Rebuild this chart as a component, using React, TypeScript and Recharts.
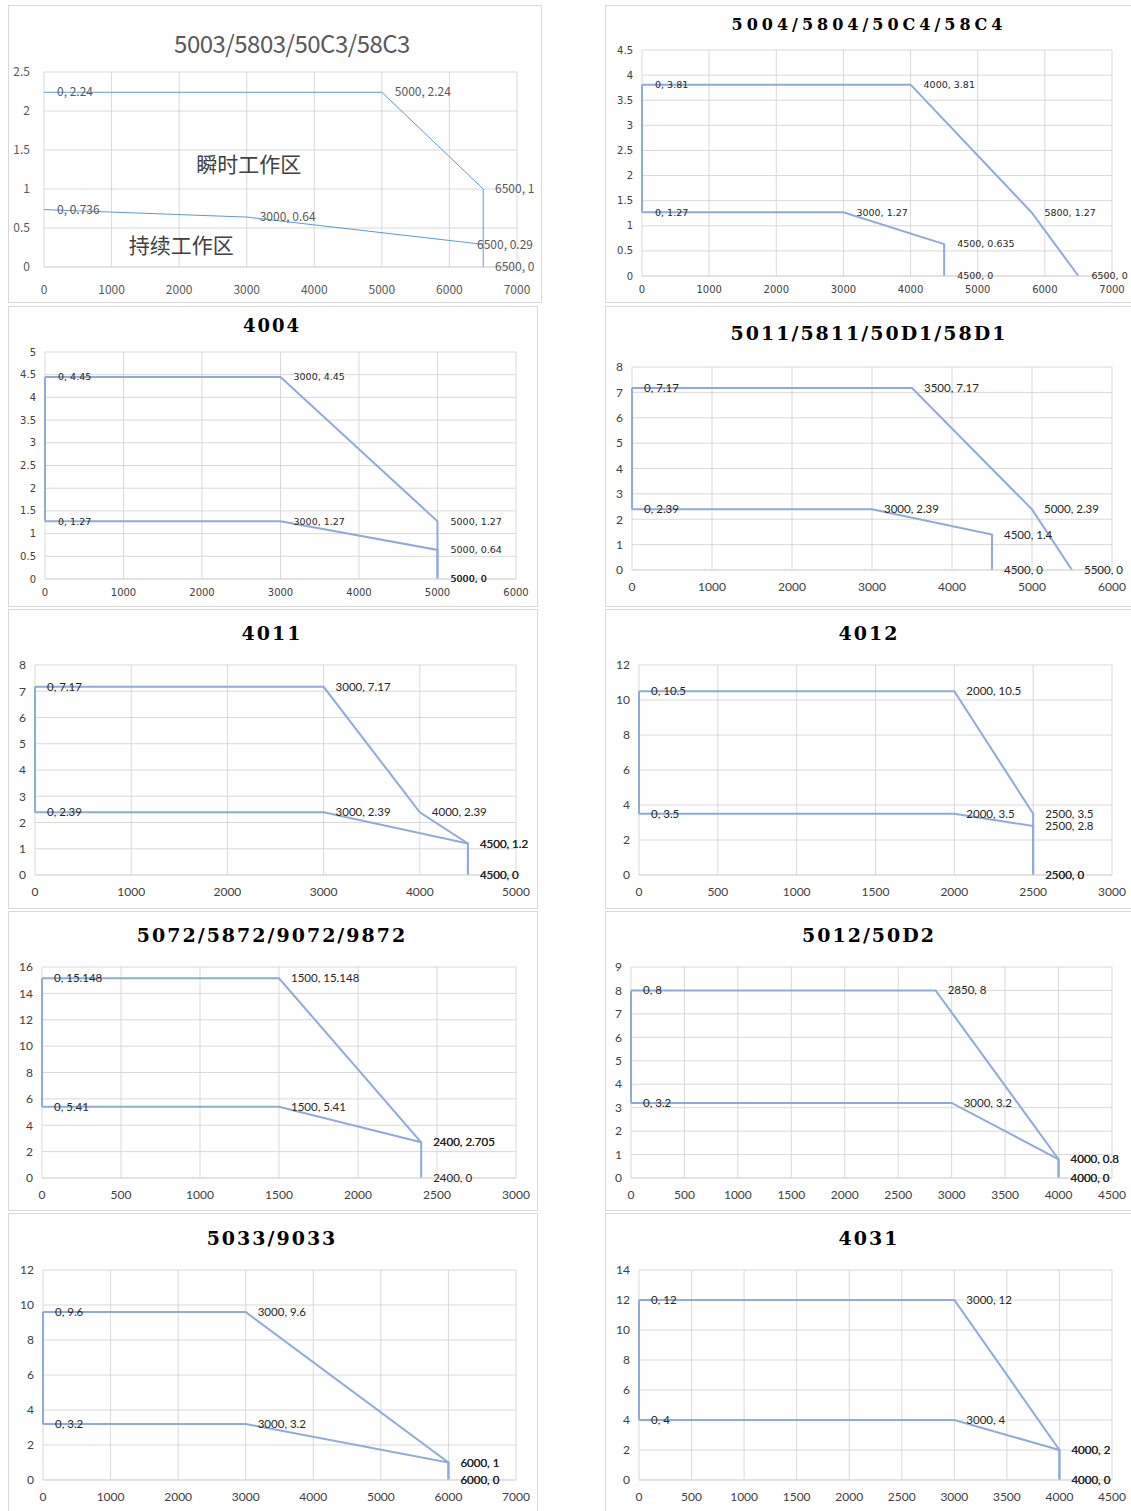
import { LineChart, Line, XAxis, YAxis, CartesianGrid, LabelList, ReferenceDot } from "recharts";

type Pt = { x: number; y: number };

// ---- data: peak (瞬时) and continuous (持续) curves, plus the x=0 joiner ----
const peak5003: Pt[] = [{ x: 0, y: 2.24 }, { x: 5000, y: 2.24 }, { x: 6500, y: 1 }, { x: 6500, y: 0 }];
const cont5003: Pt[] = [{ x: 0, y: 0.736 }, { x: 3000, y: 0.64 }, { x: 6500, y: 0.29 }];

const peak5004: Pt[] = [{ x: 0, y: 3.81 }, { x: 4000, y: 3.81 }, { x: 5800, y: 1.27 }, { x: 6500, y: 0 }];
const cont5004: Pt[] = [{ x: 0, y: 1.27 }, { x: 3000, y: 1.27 }, { x: 4500, y: 0.635 }, { x: 4500, y: 0 }];
const link5004: Pt[] = [{ x: 0, y: 1.27 }, { x: 0, y: 3.81 }];

const peak4004: Pt[] = [{ x: 0, y: 4.45 }, { x: 3000, y: 4.45 }, { x: 5000, y: 1.27 }, { x: 5000, y: 0 }];
const cont4004: Pt[] = [{ x: 0, y: 1.27 }, { x: 3000, y: 1.27 }, { x: 5000, y: 0.64 }, { x: 5000, y: 0 }];
const link4004: Pt[] = [{ x: 0, y: 1.27 }, { x: 0, y: 4.45 }];

const peak5011: Pt[] = [{ x: 0, y: 7.17 }, { x: 3500, y: 7.17 }, { x: 5000, y: 2.39 }, { x: 5500, y: 0 }];
const cont5011: Pt[] = [{ x: 0, y: 2.39 }, { x: 3000, y: 2.39 }, { x: 4500, y: 1.4 }, { x: 4500, y: 0 }];
const link5011: Pt[] = [{ x: 0, y: 2.39 }, { x: 0, y: 7.17 }];

const peak4011: Pt[] = [{ x: 0, y: 7.17 }, { x: 3000, y: 7.17 }, { x: 4000, y: 2.39 }, { x: 4500, y: 1.2 }, { x: 4500, y: 0 }];
const cont4011: Pt[] = [{ x: 0, y: 2.39 }, { x: 3000, y: 2.39 }, { x: 4500, y: 1.2 }, { x: 4500, y: 0 }];
const link4011: Pt[] = [{ x: 0, y: 2.39 }, { x: 0, y: 7.17 }];

const peak4012: Pt[] = [{ x: 0, y: 10.5 }, { x: 2000, y: 10.5 }, { x: 2500, y: 3.5 }, { x: 2500, y: 0 }];
const cont4012: Pt[] = [{ x: 0, y: 3.5 }, { x: 2000, y: 3.5 }, { x: 2500, y: 2.8 }, { x: 2500, y: 0 }];
const link4012: Pt[] = [{ x: 0, y: 3.5 }, { x: 0, y: 10.5 }];

const peak5072: Pt[] = [{ x: 0, y: 15.148 }, { x: 1500, y: 15.148 }, { x: 2400, y: 2.705 }, { x: 2400, y: 0 }];
const cont5072: Pt[] = [{ x: 0, y: 5.41 }, { x: 1500, y: 5.41 }, { x: 2400, y: 2.705 }];
const link5072: Pt[] = [{ x: 0, y: 5.41 }, { x: 0, y: 15.148 }];

const peak5012: Pt[] = [{ x: 0, y: 8 }, { x: 2850, y: 8 }, { x: 4000, y: 0.8 }, { x: 4000, y: 0 }];
const cont5012: Pt[] = [{ x: 0, y: 3.2 }, { x: 3000, y: 3.2 }, { x: 4000, y: 0.8 }, { x: 4000, y: 0 }];
const link5012: Pt[] = [{ x: 0, y: 3.2 }, { x: 0, y: 8 }];

const peak5033: Pt[] = [{ x: 0, y: 9.6 }, { x: 3000, y: 9.6 }, { x: 6000, y: 1 }, { x: 6000, y: 0 }];
const cont5033: Pt[] = [{ x: 0, y: 3.2 }, { x: 3000, y: 3.2 }, { x: 6000, y: 1 }, { x: 6000, y: 0 }];
const link5033: Pt[] = [{ x: 0, y: 3.2 }, { x: 0, y: 9.6 }];

const peak4031: Pt[] = [{ x: 0, y: 12 }, { x: 3000, y: 12 }, { x: 4000, y: 2 }, { x: 4000, y: 0 }];
const cont4031: Pt[] = [{ x: 0, y: 4 }, { x: 3000, y: 4 }, { x: 4000, y: 2 }, { x: 4000, y: 0 }];
const link4031: Pt[] = [{ x: 0, y: 4 }, { x: 0, y: 12 }];

// zone captions on the first chart
const notes5003 = [
  { text: "瞬时工作区", x: 3030, y: 1.31 },
  { text: "持续工作区", x: 2030, y: 0.28 },
];

// ---- ticks ----
const xTicks7000 = [0, 1000, 2000, 3000, 4000, 5000, 6000, 7000];
const xTicks6000 = [0, 1000, 2000, 3000, 4000, 5000, 6000];
const xTicks5000 = [0, 1000, 2000, 3000, 4000, 5000];
const xTicks3000 = [0, 500, 1000, 1500, 2000, 2500, 3000];
const xTicks4500 = [0, 500, 1000, 1500, 2000, 2500, 3000, 3500, 4000, 4500];

const yTicks2_5 = [0, 0.5, 1, 1.5, 2, 2.5];
const yTicks4_5 = [0, 0.5, 1, 1.5, 2, 2.5, 3, 3.5, 4, 4.5];
const yTicks5 = [0, 0.5, 1, 1.5, 2, 2.5, 3, 3.5, 4, 4.5, 5];
const yTicks8 = [0, 1, 2, 3, 4, 5, 6, 7, 8];
const yTicks9 = [0, 1, 2, 3, 4, 5, 6, 7, 8, 9];
const yTicks12 = [0, 2, 4, 6, 8, 10, 12];
const yTicks14 = [0, 2, 4, 6, 8, 10, 12, 14];
const yTicks16 = [0, 2, 4, 6, 8, 10, 12, 14, 16];

// ---- looks ----
const lookA = {
  titleFont: '"Noto Sans CJK SC", "Noto Sans", sans-serif', titleWeight: 400, titleColor: "#595959",
  tickFont: '"Noto Sans CJK SC", "Noto Sans", sans-serif', tickSize: 12, tickColor: "#595959",
  labelFont: '"Noto Sans CJK SC", "Noto Sans", sans-serif', labelSize: 12, labelColor: "#595959",
  line: "#5B9BD5", lineWidth: 1, xMargin: 18, yMargin: 14, labelOffset: 13,
};
const lookB = {
  titleFont: '"DejaVu Serif", serif', titleWeight: 700, titleColor: "#000000",
  tickFont: '"DejaVu Sans", sans-serif', tickSize: 10, tickColor: "#404040",
  labelFont: '"DejaVu Sans", sans-serif', labelSize: 9.5, labelColor: "#262626",
  line: "#8FAADC", lineWidth: 2, xMargin: 9.5, yMargin: 9, labelOffset: 13,
};
const lookC = {
  titleFont: '"DejaVu Serif", serif', titleWeight: 700, titleColor: "#000000",
  tickFont: "Lato, sans-serif", tickSize: 12, tickColor: "#404040",
  labelFont: "Lato, sans-serif", labelSize: 11.5, labelColor: "#262626",
  line: "#8FAADC", lineWidth: 2, xMargin: 12, yMargin: 9, labelOffset: 12,
};

type Look = typeof lookA;

// box = [left, top, width, height], plot = [x0, yTop, x1, yBottom], page px
const panels = [
  { title: "5003/5803/50C3/58C3", peak: peak5003, cont: cont5003, link: [] as Pt[], xTicks: xTicks7000, yTicks: yTicks2_5,
    box: [8, 5, 534, 298], plot: [44, 72, 517, 267], titleAt: [292, 42], titleSize: 24, titleSpacing: -0.5, look: lookA, notes: notes5003 },
  { title: "5004/5804/50C4/58C4", peak: peak5004, cont: cont5004, link: link5004, xTicks: xTicks7000, yTicks: yTicks4_5,
    box: [605, 5, 530, 298], plot: [642, 50, 1112, 276], titleAt: [869, 24], titleSize: 16, titleSpacing: 4, look: lookB },
  { title: "4004", peak: peak4004, cont: cont4004, link: link4004, xTicks: xTicks6000, yTicks: yTicks5,
    box: [8, 306, 530, 301], plot: [45, 352, 516, 579], titleAt: [272, 325], titleSize: 18, titleSpacing: 2, look: lookB },
  { title: "5011/5811/50D1/58D1", peak: peak5011, cont: cont5011, link: link5011, xTicks: xTicks6000, yTicks: yTicks8,
    box: [605, 306, 530, 301], plot: [632, 367, 1112, 570], titleAt: [869, 333], titleSize: 19, titleSpacing: 2, look: lookC },
  { title: "4011", peak: peak4011, cont: cont4011, link: link4011, xTicks: xTicks5000, yTicks: yTicks8,
    box: [8, 609, 530, 300], plot: [35, 665, 516, 875], titleAt: [272, 633], titleSize: 19, titleSpacing: 2, look: lookC },
  { title: "4012", peak: peak4012, cont: cont4012, link: link4012, xTicks: xTicks3000, yTicks: yTicks12,
    box: [605, 609, 530, 300], plot: [639, 665, 1112, 875], titleAt: [869, 633], titleSize: 19, titleSpacing: 2, look: lookC },
  { title: "5072/5872/9072/9872", peak: peak5072, cont: cont5072, link: link5072, xTicks: xTicks3000, yTicks: yTicks16,
    box: [8, 911, 530, 300], plot: [42, 967, 516, 1178], titleAt: [272, 935], titleSize: 19, titleSpacing: 2, look: lookC },
  { title: "5012/50D2", peak: peak5012, cont: cont5012, link: link5012, xTicks: xTicks4500, yTicks: yTicks9,
    box: [605, 911, 530, 300], plot: [631, 967, 1112, 1178], titleAt: [869, 935], titleSize: 19, titleSpacing: 2, look: lookC },
  { title: "5033/9033", peak: peak5033, cont: cont5033, link: link5033, xTicks: xTicks7000, yTicks: yTicks12,
    box: [8, 1213, 530, 300], plot: [43, 1270, 516, 1480], titleAt: [272, 1238], titleSize: 19, titleSpacing: 2, look: lookC },
  { title: "4031", peak: peak4031, cont: cont4031, link: link4031, xTicks: xTicks4500, yTicks: yTicks14,
    box: [605, 1213, 530, 300], plot: [639, 1270, 1112, 1480], titleAt: [869, 1238], titleSize: 19, titleSpacing: 2, look: lookC },
];

const fmt = (p: Pt) => `${p.x}, ${p.y}`;

// data label "x, y" to the right of the point; pulled left when it would run off the panel
const makeLabel = (lk: Look, maxX: number) => (props: any) => {
  const vb = props.viewBox || {};
  const x = Number(props.x ?? vb.x ?? 0);
  const y = Number(props.y ?? vb.y ?? 0);
  const text = String(props.value ?? "");
  const w = text.length * lk.labelSize * 0.5;
  let tx = x + lk.labelOffset;
  if (tx + w > maxX) tx = maxX - w;
  return (
    <text x={tx} y={y} dy="0.35em" textAnchor="start" fill={lk.labelColor}
      fontSize={lk.labelSize} fontFamily={lk.labelFont}>
      {text}
    </text>
  );
};

function Panel({ p }: { p: (typeof panels)[number] }) {
  const [bl, bt, bw, bh] = p.box;
  const [px0, py0, px1, py1] = p.plot;
  const lk = p.look;
  const W = bw - 2;
  const H = bh - 2;
  const ox = bl + 1;
  const oy = bt + 1;
  const yw = px0 - ox;
  const xh = 20;
  const margin = { top: py0 - oy, right: ox + W - px1, bottom: oy + H - py1 - xh, left: 0 };
  const tick = { fontSize: lk.tickSize, fill: lk.tickColor, fontFamily: lk.tickFont };
  const lh = Math.round(p.titleSize * 1.3);
  const visibleRight = Math.min(W, 1131 - ox) - 4;
  const renderLabel = makeLabel(lk, visibleRight);

  return (
    <div
      style={{
        position: "absolute", left: bl, top: bt, width: bw, height: bh,
        boxSizing: "border-box", border: "1px solid #D9D9D9", background: "#fff",
      }}
    >
      <LineChart width={W} height={H} margin={margin}>
        <CartesianGrid stroke="#D9D9D9" strokeWidth={1} />
        <XAxis
          type="number" dataKey="x" domain={[0, p.xTicks[p.xTicks.length - 1]]} ticks={p.xTicks}
          interval={0} height={xh} tickLine={false} tickSize={0} tickMargin={lk.xMargin}
          axisLine={{ stroke: "#D9D9D9" }} tick={tick}
        />
        <YAxis
          type="number" domain={[0, p.yTicks[p.yTicks.length - 1]]} ticks={p.yTicks}
          interval={0} width={yw} tickLine={false} tickSize={0} tickMargin={lk.yMargin}
          axisLine={false} tick={tick}
        />
        {p.link.length > 0 && (
          <Line data={p.link} dataKey="y" type="linear" stroke={lk.line} strokeWidth={lk.lineWidth}
            dot={false} activeDot={false} isAnimationActive={false} />
        )}
        <Line data={p.peak} dataKey="y" type="linear" stroke={lk.line} strokeWidth={lk.lineWidth}
          dot={false} activeDot={false} isAnimationActive={false}>
          <LabelList dataKey={fmt as any} content={renderLabel} />
        </Line>
        <Line data={p.cont} dataKey="y" type="linear" stroke={lk.line} strokeWidth={lk.lineWidth}
          dot={false} activeDot={false} isAnimationActive={false}>
          <LabelList dataKey={fmt as any} content={renderLabel} />
        </Line>
        {(p as any).notes?.map((n: { text: string; x: number; y: number }) => (
          <ReferenceDot key={n.text} x={n.x} y={n.y} r={0} fill="none" stroke="none"
            label={{ value: n.text, position: "center", fontSize: 21, fill: "#404040",
              fontFamily: '"Noto Sans CJK SC", sans-serif' }} />
        ))}
      </LineChart>
      <div
        style={{
          position: "absolute", left: p.titleAt[0] - bl - 1 - 250, width: 500,
          top: p.titleAt[1] - bt - 1 - lh / 2, height: lh, lineHeight: `${lh}px`,
          textAlign: "center", fontFamily: lk.titleFont, fontWeight: lk.titleWeight,
          fontSize: p.titleSize, letterSpacing: p.titleSpacing, color: lk.titleColor,
          whiteSpace: "nowrap",
        }}
      >
        {p.title}
      </div>
    </div>
  );
}

export default function App() {
  return (
    <div style={{ position: "absolute", left: 0, top: 0, width: 1131, height: 1511, overflow: "hidden", background: "#fff" }}>
      {panels.map((p) => (
        <Panel key={p.title} p={p} />
      ))}
    </div>
  );
}
